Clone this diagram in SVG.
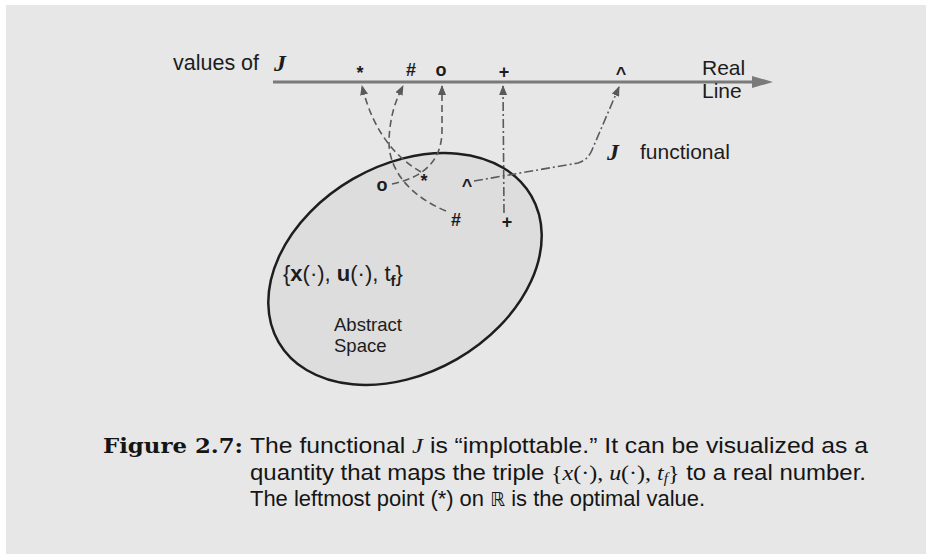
<svg xmlns="http://www.w3.org/2000/svg" width="926" height="554" viewBox="0 0 926 554">
<style>
.lbl{font-family:"Liberation Sans",Arial,sans-serif;fill:#1c1c1c}
.sym{font-family:"Liberation Sans",Arial,sans-serif;font-weight:bold;font-size:18px;fill:#1c1c1c;text-anchor:middle}
.mj{font-family:"Liberation Serif","Times New Roman",serif;font-style:italic;font-weight:bold}
.mi{font-family:"Liberation Serif","Times New Roman",serif;font-style:italic}
.mr{font-family:"Liberation Serif","Times New Roman",serif}
.conn{fill:none;stroke:#5a5a5a;stroke-width:1.6;marker-end:url(#ah)}
.dash{stroke-dasharray:7 4}
.dashdot{stroke-dasharray:9 3 2 3}
.cap{font-family:"Liberation Sans",Arial,sans-serif;font-size:22px;fill:#151515}
</style>
<defs>
<marker id="ah" viewBox="0 0 10 8" refX="9" refY="4" markerWidth="10" markerHeight="8" markerUnits="userSpaceOnUse" orient="auto">
<path d="M0,0 L10,4 L0,8 z" fill="#5a5a5a"/>
</marker>
</defs>
<rect x="0" y="0" width="926" height="554" fill="#ffffff"/>
<rect x="6" y="5" width="920" height="549" fill="#e7e7e7"/>

<g id="real-line">
<line x1="273" y1="82" x2="756" y2="82" stroke="#7a7a7a" stroke-width="3"/>
<polygon points="752,76 773,82 752,88" fill="#7a7a7a"/>
<text class="lbl" x="702" y="75" font-size="21">Real</text>
<text class="lbl" x="702" y="98" font-size="21">Line</text>
</g>

<g id="values-label">
<text class="lbl" x="173" y="70" font-size="21.5">values of</text>
<text class="mj" x="274" y="71" font-size="24" fill="#1c1c1c">J</text>
</g>

<g id="line-values">
<text class="sym" x="360" y="79" font-size="19">*</text>
<text class="sym" x="411" y="76">#</text>
<text class="sym" x="441" y="76" font-size="20">o</text>
<text class="sym" x="504" y="78">+</text>
<text class="sym" x="621" y="80">^</text>
</g>

<g id="abstract-space">
<ellipse cx="405" cy="269" rx="146" ry="104" transform="rotate(-30 405 269)" fill="#dddddd" stroke="#1e1e1e" stroke-width="2.5"/>
<text class="lbl" x="283" y="281" font-size="22">{<tspan font-weight="bold">x</tspan>(·), <tspan font-weight="bold">u</tspan>(·), t<tspan font-size="15" font-weight="bold" dy="5">f</tspan><tspan dy="-5">}</tspan></text>
<text class="lbl" x="334" y="331" font-size="18.5">Abstract</text>
<text class="lbl" x="334" y="352" font-size="18.5">Space</text>
</g>

<g id="space-points">
<text class="sym" x="382" y="191" font-size="20">o</text>
<text class="sym" x="424" y="187" font-size="19">*</text>
<text class="sym" x="467" y="192">^</text>
<text class="sym" x="456" y="226">#</text>
<text class="sym" x="507" y="228">+</text>
</g>

<g id="functional-label">
<text class="mj" x="607" y="160" font-size="24" fill="#1c1c1c">J</text>
<text class="lbl" x="640" y="159" font-size="21">functional</text>
</g>

<g id="connectors">
<path class="conn dash" d="M421,172 C400,160 374,136 362,86"/>
<path class="conn dash" d="M446,211 C410,196 388,170 389,140 C390,115 396,100 403,86"/>
<path class="conn dash" d="M392,184 C425,177 442,160 442,130 L442,86"/>
<path class="conn dashdot" d="M504,213 L503,86"/>
<path class="conn dashdot" d="M474,181 L578,163 Q588,160 592,150 L619,87"/>
</g>

<g id="caption">
<text x="103" y="453" font-family="'DejaVu Serif','Liberation Serif',serif" font-weight="bold" font-size="20" fill="#151515" textLength="140" lengthAdjust="spacingAndGlyphs">Figure 2.7:</text>
<text class="cap" x="250" y="453" textLength="618" lengthAdjust="spacingAndGlyphs">The functional <tspan class="mi">J</tspan> is “implottable.” It can be visualized as a</text>
<text class="cap" x="250" y="480" textLength="616" lengthAdjust="spacingAndGlyphs">quantity that maps the triple <tspan class="mr">{</tspan><tspan class="mi">x</tspan><tspan class="mr">(·), </tspan><tspan class="mi">u</tspan><tspan class="mr">(·), </tspan><tspan class="mi">t</tspan><tspan class="mi" font-size="14" dy="3">f</tspan><tspan class="mr" dy="-3">}</tspan> to a real number.</text>
<text class="cap" x="250" y="506" textLength="455" lengthAdjust="spacingAndGlyphs">The leftmost point (*) on <tspan font-family="'DejaVu Sans',sans-serif" font-size="19">ℝ</tspan> is the optimal value.</text>
</g>
</svg>
